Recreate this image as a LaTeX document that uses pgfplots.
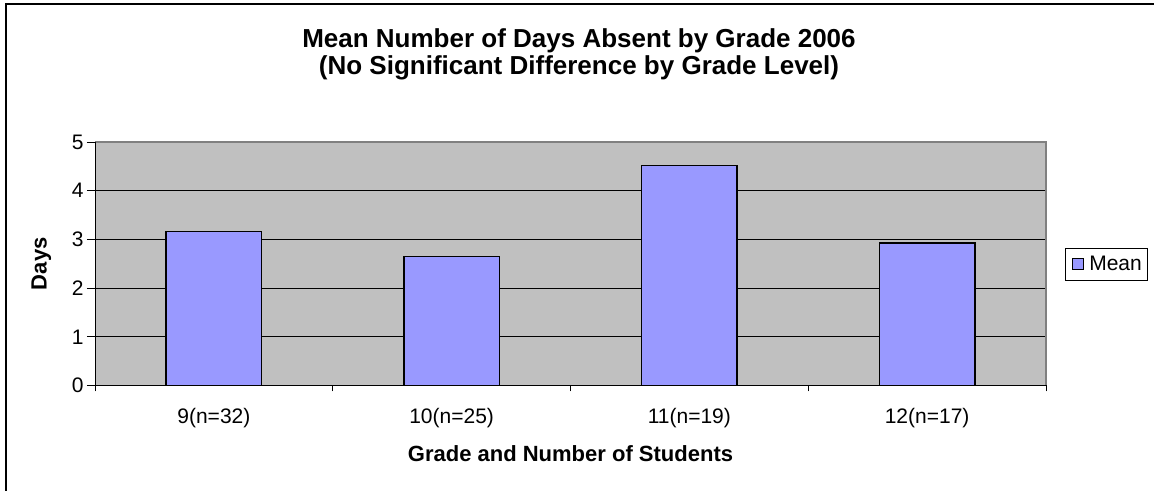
\documentclass[border=0pt]{standalone}
\usepackage{fontspec}
\setmainfont{Liberation Sans}
\usepackage{pgfplots}
\pgfplotsset{compat=1.18}
\definecolor{barblue}{HTML}{9999FF}
\definecolor{plotgray}{HTML}{C0C0C0}
\definecolor{bordergray}{HTML}{808080}
\begin{document}
\begin{tikzpicture}
\path[use as bounding box] (0,0) rectangle (1154bp,491bp);
\draw[line width=2bp] (6bp,-10bp) |- (1170bp,487bp);
\node[font=\bfseries\fontsize{26bp}{30bp}\selectfont, anchor=base] at (579bp,443.3bp) {Mean Number of Days Absent by Grade 2006};
\node[font=\bfseries\fontsize{26bp}{30bp}\selectfont, anchor=base] at (579bp,416.7bp) {(No Significant Difference by Grade Level)};
\begin{axis}[
  at={(95bp,105.5bp)}, anchor=south west,
  scale only axis, width=951bp, height=243.5bp,
  clip=false,
  xmin=-0.5, xmax=3.5, ymin=0, ymax=5,
  axis background/.style={fill=plotgray},
  axis line style={draw=none},
  xtick={0,1,2,3},
  xticklabels={9(n=32),10(n=25),11(n=19),12(n=17)},
  minor xtick={-0.5,0.5,1.5,2.5,3.5},
  ytick={0,1,2,3,4,5},
  ymajorgrids, grid style={black, line width=0.9bp},
  tick align=outside,
  xtick pos=bottom, ytick pos=left,
  major x tick style={draw=none},
  minor x tick style={black, line width=0.9bp},
  y tick style={black, line width=0.9bp},
  major tick length=8bp, minor tick length=6bp,
  /pgf/number format/assume math mode=true,
  ticklabel style={font=\fontsize{21bp}{25bp}\selectfont},
  xticklabel style={anchor=base, yshift=-30bp},
  xlabel={Grade and Number of Students},
  xlabel style={at={(axis description cs:0.5,-0.3129)}, anchor=base, font=\bfseries\fontsize{22bp}{26bp}\selectfont},
  ylabel={Days},
  ylabel style={at={(axis description cs:-0.0508,0.5)}, anchor=base, font=\bfseries\fontsize{22bp}{26bp}\selectfont},
  legend style={at={(axis description cs:1.0199,0.499)}, anchor=west, draw=black, line width=0.8bp,
    font=\fontsize{21bp}{25bp}\selectfont, inner xsep=4bp, inner ysep=6bp},
  legend image code/.code={\path[draw=none, fill=none] (0bp,0bp) -- (18bp,0bp);
    \draw[fill=barblue, draw=black, line width=0.8bp] (3bp,-5.5bp) rectangle (14bp,5.5bp);},
]
\addplot[ybar, bar width=95.5bp, fill=barblue, draw=black, line width=1.6bp]
  coordinates {(0,3.16) (1,2.65) (2,4.52) (3,2.92)};
\addlegendentry{Mean}
\draw[bordergray, line width=1.5bp] (rel axis cs:0,1) -- (rel axis cs:1,1) -- (rel axis cs:1,0);
\draw[black, line width=1bp] (rel axis cs:0,1) -- (rel axis cs:0,0) -- (rel axis cs:1,0);
\end{axis}
\end{tikzpicture}
\end{document}
